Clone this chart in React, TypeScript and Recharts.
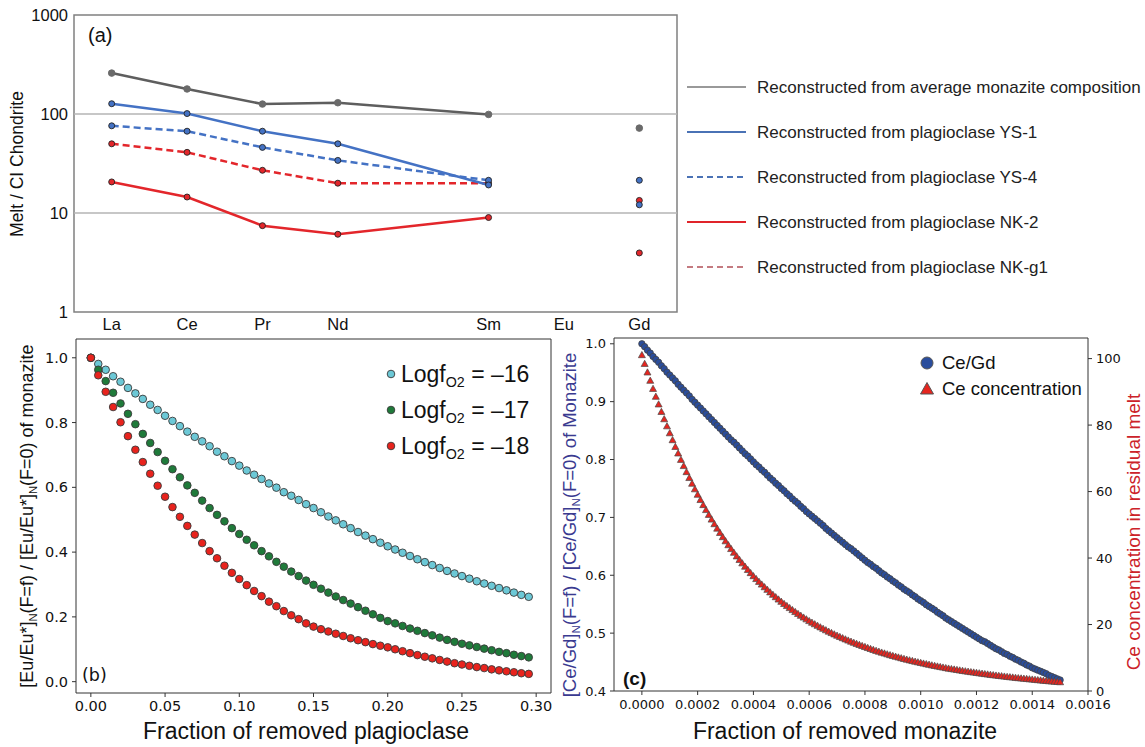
import React from 'react';
import {
  LineChart,
  Line,
  ScatterChart,
  Scatter,
  XAxis,
  YAxis,
  ReferenceLine,
  ReferenceArea,
} from 'recharts';

// ---- (a) melt / CI chondrite ----
const elements = ['La', 'Ce', 'Pr', 'Nd', 'Sm', 'Eu', 'Gd'];
const elementPos = [0, 1, 2, 3, 5, 6, 7]; // no Pm column, so Nd -> Sm skips a slot
const avgMonazite = [259, 179, 126, 130, 99, null, 72];
const plagYS1 = [127, 101, 67, 50, 19.2, null, 21.4];
const plagYS4 = [76, 67, 46, 34, 21.4, null, 12.1];
const plagNK2 = [20.6, 14.5, 7.45, 6.1, 9.0, null, 3.95];
const plagNKg1 = [50, 41, 27, 20, 20, null, 13.4];
const chondriteTicks = [1, 10, 100, 1000];
const legendA = [
  'Reconstructed from average monazite composition',
  'Reconstructed from plagioclase YS-1',
  'Reconstructed from plagioclase YS-4',
  'Reconstructed from plagioclase NK-2',
  'Reconstructed from plagioclase NK-g1',
];

// ---- (b) Eu anomaly of monazite vs removed plagioclase ----
const plagFraction = [
  0, 0.005, 0.01, 0.015, 0.02, 0.025, 0.03, 0.035, 0.04, 0.045, 0.05, 0.055, 0.06, 0.065, 0.07,
  0.075, 0.08, 0.085, 0.09, 0.095, 0.1, 0.105, 0.11, 0.115, 0.12, 0.125, 0.13, 0.135, 0.14, 0.145,
  0.15, 0.155, 0.16, 0.165, 0.17, 0.175, 0.18, 0.185, 0.19, 0.195, 0.2, 0.205, 0.21, 0.215, 0.22,
  0.225, 0.23, 0.235, 0.24, 0.245, 0.25, 0.255, 0.26, 0.265, 0.27, 0.275, 0.28, 0.285, 0.29, 0.295,
];
const euFo2m16 = [
  1.0, 0.981, 0.963, 0.943, 0.926, 0.907, 0.89, 0.873, 0.855, 0.839, 0.821, 0.805, 0.789, 0.772, 0.756,
  0.742, 0.727, 0.71, 0.696, 0.681, 0.667, 0.652, 0.639, 0.626, 0.612, 0.599, 0.585, 0.574, 0.561, 0.548,
  0.536, 0.523, 0.51, 0.498, 0.486, 0.474, 0.462, 0.451, 0.44, 0.429, 0.418, 0.408, 0.398, 0.388, 0.378,
  0.369, 0.36, 0.351, 0.342, 0.334, 0.326, 0.318, 0.31, 0.303, 0.296, 0.289, 0.282, 0.275, 0.268, 0.262,
];
const euFo2m17 = [
  1.0, 0.963, 0.928, 0.892, 0.859, 0.827, 0.795, 0.765, 0.737, 0.709, 0.682, 0.656, 0.631, 0.606, 0.583,
  0.559, 0.536, 0.515, 0.495, 0.474, 0.456, 0.438, 0.421, 0.403, 0.387, 0.37, 0.355, 0.34, 0.326, 0.312,
  0.299, 0.287, 0.275, 0.263, 0.252, 0.241, 0.23, 0.219, 0.208, 0.197, 0.187, 0.18, 0.172, 0.164, 0.157,
  0.15, 0.143, 0.136, 0.129, 0.123, 0.117, 0.112, 0.107, 0.102, 0.097, 0.092, 0.088, 0.083, 0.079, 0.075,
];
const euFo2m18 = [
  1.0, 0.946, 0.895, 0.848, 0.801, 0.758, 0.716, 0.678, 0.642, 0.605, 0.571, 0.539, 0.509, 0.481, 0.454,
  0.428, 0.403, 0.381, 0.358, 0.336, 0.317, 0.298, 0.28, 0.264, 0.247, 0.233, 0.218, 0.205, 0.193, 0.18,
  0.17, 0.162, 0.155, 0.148, 0.141, 0.134, 0.128, 0.122, 0.116, 0.111, 0.106, 0.1, 0.094, 0.088, 0.082,
  0.077, 0.072, 0.067, 0.062, 0.057, 0.053, 0.049, 0.045, 0.042, 0.038, 0.035, 0.032, 0.029, 0.026, 0.024,
];
const plagTicks = [0, 0.05, 0.1, 0.15, 0.2, 0.25, 0.3];
const euTicks = [0, 0.2, 0.4, 0.6, 0.8, 1.0];

// ---- (c) Ce/Gd of monazite and Ce in melt vs removed monazite ----
const monaziteStep = 0.00001;
const ceGdRatio = [
  1.0, 0.995, 0.989, 0.984, 0.978, 0.973, 0.968, 0.962, 0.957, 0.951,
  0.946, 0.941, 0.936, 0.93, 0.925, 0.92, 0.915, 0.91, 0.904, 0.899,
  0.894, 0.889, 0.884, 0.879, 0.874, 0.869, 0.864, 0.859, 0.854, 0.849,
  0.844, 0.839, 0.834, 0.83, 0.825, 0.82, 0.815, 0.81, 0.806, 0.801,
  0.796, 0.791, 0.787, 0.782, 0.778, 0.773, 0.768, 0.764, 0.759, 0.755,
  0.75, 0.746, 0.741, 0.737, 0.732, 0.728, 0.724, 0.719, 0.715, 0.71,
  0.706, 0.702, 0.698, 0.694, 0.69, 0.686, 0.681, 0.677, 0.673, 0.669,
  0.665, 0.661, 0.657, 0.653, 0.649, 0.646, 0.642, 0.638, 0.634, 0.63,
  0.626, 0.622, 0.619, 0.615, 0.612, 0.608, 0.604, 0.601, 0.597, 0.594,
  0.59, 0.587, 0.583, 0.58, 0.576, 0.573, 0.57, 0.566, 0.563, 0.559,
  0.556, 0.553, 0.549, 0.546, 0.543, 0.54, 0.536, 0.533, 0.53, 0.526,
  0.523, 0.52, 0.517, 0.514, 0.511, 0.508, 0.505, 0.502, 0.499, 0.496,
  0.493, 0.49, 0.487, 0.485, 0.482, 0.479, 0.476, 0.473, 0.471, 0.468,
  0.465, 0.463, 0.46, 0.458, 0.455, 0.453, 0.45, 0.448, 0.445, 0.443,
  0.44, 0.438, 0.436, 0.434, 0.432, 0.43, 0.427, 0.425, 0.423, 0.421,
  0.419,
];
const ceMelt = [
  101.0, 98.36, 95.79, 93.29, 90.85, 88.48, 86.17, 83.92, 81.72, 79.59,
  77.5, 75.42, 73.39, 71.42, 69.5, 67.63, 65.81, 64.04, 62.32, 60.64,
  59.0, 57.42, 55.89, 54.4, 52.95, 51.53, 50.15, 48.81, 47.51, 46.24,
  45.0, 43.82, 42.67, 41.55, 40.46, 39.4, 38.37, 37.36, 36.38, 35.43,
  34.5, 33.64, 32.8, 31.98, 31.18, 30.4, 29.64, 28.9, 28.18, 27.48,
  26.8, 26.15, 25.52, 24.91, 24.31, 23.72, 23.15, 22.59, 22.05, 21.52,
  21.0, 20.51, 20.03, 19.57, 19.11, 18.67, 18.23, 17.81, 17.4, 16.99,
  16.6, 16.22, 15.85, 15.49, 15.14, 14.8, 14.46, 14.14, 13.82, 13.5,
  13.2, 12.9, 12.61, 12.32, 12.04, 11.77, 11.51, 11.25, 10.99, 10.74,
  10.5, 10.27, 10.04, 9.82, 9.6, 9.39, 9.18, 8.98, 8.78, 8.59,
  8.4, 8.21, 8.03, 7.85, 7.67, 7.5, 7.33, 7.17, 7.01, 6.85,
  6.7, 6.56, 6.42, 6.28, 6.14, 6.01, 5.88, 5.76, 5.63, 5.52,
  5.4, 5.28, 5.16, 5.04, 4.93, 4.82, 4.71, 4.6, 4.5, 4.4,
  4.3, 4.2, 4.1, 4.01, 3.91, 3.82, 3.74, 3.65, 3.57, 3.48,
  3.4, 3.31, 3.22, 3.14, 3.05, 2.97, 2.89, 2.82, 2.74, 2.67,
  2.6,
];
const monaziteTicks = [0, 0.0002, 0.0004, 0.0006, 0.0008, 0.001, 0.0012, 0.0014, 0.0016];
const ratioTicks = [0.4, 0.5, 0.6, 0.7, 0.8, 0.9, 1.0];
const ceTicks = [0, 20, 40, 60, 80, 100];

const ARIAL = '"Liberation Sans", Arial, sans-serif';
const DEJAVU = '"DejaVu Sans", sans-serif';

const GRAY = '#5e5e5e';
const BLUE = '#4472c4';
const RED = '#e3262b';
const CYAN = '#6cc8d6';
const GREEN = '#1f7a3a';
const RED_B = '#e8231d';
const NAVY = '#2a4d9c';
const RED_C = '#e5251f';

const rowsA = elements.map((el, i) => ({
  pos: elementPos[i],
  avg: avgMonazite[i],
  ys1: plagYS1[i],
  ys4: plagYS4[i],
  nk2: plagNK2[i],
  nkg1: plagNKg1[i],
}));

const toXY = (xs: number[], ys: number[]) => xs.map((x, i) => ({ x, y: ys[i] }));
const dataM16 = toXY(plagFraction, euFo2m16);
const dataM17 = toXY(plagFraction, euFo2m17);
const dataM18 = toXY(plagFraction, euFo2m18);
const monaziteFraction = ceGdRatio.map((_, i) => i * monaziteStep);
const dataCeGd = toXY(monaziteFraction, ceGdRatio);
const dataCe = toXY(monaziteFraction, ceMelt);

const makeDot = (key: string, fill: string, stroke: string, r: number) => (p: any) => {
  if (p.payload == null || p.payload[key] == null || p.cy == null) return null;
  return (
    <circle
      key={`${key}-${p.index}`}
      cx={p.cx}
      cy={p.cy}
      r={r}
      fill={fill}
      stroke={stroke}
      strokeWidth={0.9}
    />
  );
};

const circleShape = (fill: string, r: number, stroke = '#3a3a3a', sw = 0.9) => (p: any) => (
  <circle cx={p.cx} cy={p.cy} r={r} fill={fill} stroke={stroke} strokeWidth={sw} />
);

const triangleShape = (p: any) => (
  <path
    d={`M${p.cx},${p.cy - 3.8} L${p.cx + 3.5},${p.cy + 2.4} L${p.cx - 3.5},${p.cy + 2.4} Z`}
    fill={RED_C}
    stroke="#4a4a4a"
    strokeWidth={0.7}
  />
);

const Sub = ({ children }: { children: React.ReactNode }) => (
  <span style={{ fontSize: '0.62em', position: 'relative', top: '0.35em' }}>{children}</span>
);

// absolutely placed text; (x, y) is the centre unless align="left"
const Txt = ({
  x,
  y,
  size,
  font = ARIAL,
  color = '#111',
  rotate = false,
  align = 'center',
  weight = 400,
  children,
}: any) => (
  <div
    style={{
      position: 'absolute',
      left: x,
      top: y,
      fontSize: size,
      fontFamily: font,
      fontWeight: weight,
      color,
      lineHeight: 1,
      whiteSpace: 'nowrap',
      transform:
        align === 'left'
          ? 'translateY(-50%)'
          : `translate(-50%, -50%)${rotate ? ' rotate(-90deg)' : ''}`,
    }}
  >
    {children}
  </div>
);

const legendStyles = [
  { color: '#999999', dash: undefined },
  { color: '#4a72b5', dash: undefined },
  { color: '#4a72b5', dash: '6 4' },
  { color: '#e0242a', dash: undefined },
  { color: '#c47a80', dash: '6 4' },
];
const legendY = [87, 132, 177, 222, 267];

const tickB = { fontSize: 14.5, fill: '#111', fontFamily: DEJAVU };
const tickC = { fontSize: 13, fill: '#111', fontFamily: DEJAVU };

export default function App() {
  return (
    <div
      style={{
        position: 'absolute',
        left: 0,
        top: 0,
        width: 1145,
        height: 747,
        background: '#fff',
        overflow: 'hidden',
      }}
    >
      {/* (a) */}
      <div style={{ position: 'absolute', left: 0, top: 0 }}>
        <LineChart width={700} height={340} data={rowsA} margin={{ top: 15, right: 23, left: 0, bottom: 0 }}>
          <XAxis
            type="number"
            dataKey="pos"
            domain={[-0.5, 7.5]}
            ticks={elementPos}
            tickFormatter={(v: number) => elements[elementPos.indexOf(v)]}
            axisLine={false}
            tickLine={false}
            tickSize={4}
            tickMargin={2}
            height={28}
            interval={0}
            tick={{ fontSize: 16.5, fill: '#111', fontFamily: ARIAL }}
            allowDataOverflow
          />
          <YAxis
            type="number"
            scale="log"
            domain={[1, 1000]}
            ticks={chondriteTicks}
            axisLine={false}
            tickLine={false}
            tickSize={4}
            tickMargin={2}
            width={74}
            interval={0}
            tick={{ fontSize: 16.5, fill: '#111', fontFamily: ARIAL }}
            allowDataOverflow
          />
          <ReferenceLine y={10} stroke="#b4b4b4" strokeWidth={1.5} />
          <ReferenceLine y={100} stroke="#b4b4b4" strokeWidth={1.5} />
          <Line
            dataKey="avg"
            stroke={GRAY}
            strokeWidth={2.5}
            dot={makeDot('avg', '#6a6a6a', '#6a6a6a', 3.3)}
            isAnimationActive={false}
          />
          <Line
            dataKey="nkg1"
            stroke={RED}
            strokeWidth={2.5}
            strokeDasharray="7 4"
            dot={makeDot('nkg1', RED, '#222', 3)}
            isAnimationActive={false}
          />
          <Line
            dataKey="nk2"
            stroke={RED}
            strokeWidth={2.5}
            dot={makeDot('nk2', RED, '#222', 3)}
            isAnimationActive={false}
          />
          <Line
            dataKey="ys4"
            stroke={BLUE}
            strokeWidth={2.5}
            strokeDasharray="7 4"
            dot={makeDot('ys4', BLUE, '#222', 3)}
            isAnimationActive={false}
          />
          <Line
            dataKey="ys1"
            stroke={BLUE}
            strokeWidth={2.5}
            dot={makeDot('ys1', BLUE, '#222', 3)}
            isAnimationActive={false}
          />
          <ReferenceArea x1={-0.5} x2={7.5} y1={1} y2={1000} fill="none" stroke="#808080" strokeWidth={1.5} />
        </LineChart>
      </div>

      {/* (b) */}
      <div style={{ position: 'absolute', left: 0, top: 330 }}>
        <ScatterChart width={560} height={417} margin={{ top: 9, right: 9, left: 0, bottom: 0 }}>
          <XAxis
            type="number"
            dataKey="x"
            domain={[-0.01, 0.31]}
            ticks={plagTicks}
            tickFormatter={(v: number) => v.toFixed(2)}
            axisLine={false}
            tickLine={{ stroke: '#333' }}
            tickSize={4}
            tickMargin={4}
            height={54}
            interval={0}
            tick={tickB}
            allowDataOverflow
          />
          <YAxis
            type="number"
            dataKey="y"
            domain={[-0.035, 1.058]}
            ticks={euTicks}
            tickFormatter={(v: number) => v.toFixed(1)}
            axisLine={false}
            tickLine={{ stroke: '#333' }}
            tickSize={4}
            tickMargin={4}
            width={76}
            interval={0}
            tick={tickB}
            allowDataOverflow
          />
          <Scatter data={dataM16} shape={circleShape(CYAN, 3.8)} isAnimationActive={false} />
          <Scatter data={dataM17} shape={circleShape(GREEN, 3.8)} isAnimationActive={false} />
          <Scatter data={dataM18} shape={circleShape(RED_B, 3.8)} isAnimationActive={false} />
          <ReferenceArea x1={-0.01} x2={0.31} y1={-0.035} y2={1.058} fill="none" stroke="#333" strokeWidth={1} />
        </ScatterChart>
      </div>

      {/* (c) */}
      <div style={{ position: 'absolute', left: 560, top: 330 }}>
        <ScatterChart width={585} height={417} margin={{ top: 8, right: 0, left: 0, bottom: 0 }}>
          <XAxis
            type="number"
            dataKey="x"
            domain={[-0.0001, 0.0016]}
            ticks={monaziteTicks}
            tickFormatter={(v: number) => v.toFixed(4)}
            axisLine={false}
            tickLine={{ stroke: '#333' }}
            tickSize={4}
            tickMargin={5}
            height={56}
            interval={0}
            tick={tickC}
            allowDataOverflow
          />
          <YAxis
            yAxisId="l"
            type="number"
            dataKey="y"
            domain={[0.4, 1.01]}
            ticks={ratioTicks}
            tickFormatter={(v: number) => v.toFixed(1)}
            axisLine={false}
            tickLine={{ stroke: '#333' }}
            tickSize={4}
            tickMargin={4}
            width={54}
            interval={0}
            tick={tickC}
            allowDataOverflow
          />
          <YAxis
            yAxisId="r"
            orientation="right"
            type="number"
            dataKey="y"
            domain={[0, 106.2]}
            ticks={ceTicks}
            axisLine={false}
            tickLine={{ stroke: '#333' }}
            tickSize={4}
            tickMargin={4}
            width={57}
            interval={0}
            tick={tickC}
            allowDataOverflow
          />
          <Scatter yAxisId="l" data={dataCeGd} shape={circleShape(NAVY, 3.2, '#444', 0.8)} isAnimationActive={false} />
          <Scatter yAxisId="r" data={dataCe} shape={triangleShape} isAnimationActive={false} />
          <ReferenceArea
            yAxisId="l"
            x1={-0.0001}
            x2={0.0016}
            y1={0.4}
            y2={1.01}
            fill="none"
            stroke="#333"
            strokeWidth={1}
          />
        </ScatterChart>
      </div>

      {/* (a) texts and legend */}
      <Txt x={18} y={164} size={17.5} rotate>
        Melt / CI Chondrite
      </Txt>
      <Txt x={88} y={35} size={20} align="left">
        (a)
      </Txt>
      {legendA.map((label, i) => (
        <React.Fragment key={label}>
          <svg style={{ position: 'absolute', left: 687, top: legendY[i] - 3 }} width={59} height={6}>
            <line
              x1={0}
              y1={3}
              x2={59}
              y2={3}
              stroke={legendStyles[i].color}
              strokeWidth={2.2}
              strokeDasharray={legendStyles[i].dash}
            />
          </svg>
          <Txt x={757} y={legendY[i]} size={17} color="#222" align="left">
            {label}
          </Txt>
        </React.Fragment>
      ))}

      {/* (b) texts and legend */}
      <Txt x={27} y={516} size={18}>
        <div style={{ transform: 'rotate(-90deg)' }}>
          [Eu/Eu*]<Sub>N</Sub>(F=f) / [Eu/Eu*]<Sub>N</Sub>(F=0) of monazite
        </div>
      </Txt>
      <Txt x={82} y={676} size={17.5} font={DEJAVU} align="left">
        (b)
      </Txt>
      <Txt x={306} y={731} size={23}>
        Fraction of removed plagioclase
      </Txt>
      {[
        { c: CYAN, t: '16', y: 374 },
        { c: GREEN, t: '17', y: 410 },
        { c: RED_B, t: '18', y: 446 },
      ].map((row) => (
        <React.Fragment key={row.t}>
          <svg style={{ position: 'absolute', left: 386, top: row.y - 5 }} width={10} height={10}>
            <circle cx={5} cy={5} r={3.8} fill={row.c} stroke="#3a3a3a" strokeWidth={0.9} />
          </svg>
          <Txt x={401} y={row.y} size={23} align="left">
            Logf<Sub>O2</Sub> = –{row.t}
          </Txt>
        </React.Fragment>
      ))}

      {/* (c) texts and legend */}
      <Txt x={570} y={525} size={18.5} color="#3a3a90">
        <div style={{ transform: 'rotate(-90deg)' }}>
          [Ce/Gd]<Sub>N</Sub>(F=f) / [Ce/Gd]<Sub>N</Sub>(F=0) of Monazite
        </div>
      </Txt>
      <Txt x={1133} y={532} size={19} color="#cc2229" rotate>
        Ce concentration in residual melt
      </Txt>
      <Txt x={845} y={731} size={23}>
        Fraction of removed monazite
      </Txt>
      <Txt x={623} y={678} size={19} weight={700} align="left">
        (c)
      </Txt>
      <svg style={{ position: 'absolute', left: 918, top: 355 }} width={18} height={42}>
        <circle cx={9} cy={8} r={6} fill={NAVY} stroke="#555" strokeWidth={1} />
        <path d="M9,27.5 L15.5,39 L2.5,39 Z" fill={RED_C} stroke="#555" strokeWidth={1} />
      </svg>
      <Txt x={942} y={363} size={18.5} align="left">
        Ce/Gd
      </Txt>
      <Txt x={942} y={389} size={18.5} align="left">
        Ce concentration
      </Txt>
    </div>
  );
}
